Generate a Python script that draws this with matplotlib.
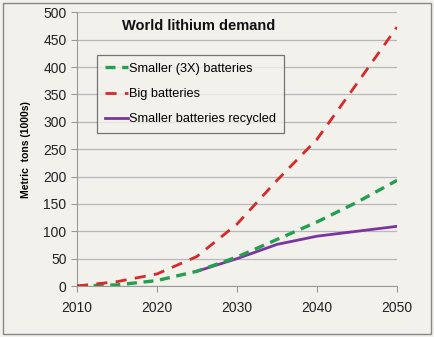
import matplotlib.pyplot as plt
from matplotlib.patches import Rectangle

plt.rcParams['font.family'] = ['Liberation Sans', 'DejaVu Sans']

# data (thousands of metric tons)
years = [2010, 2015, 2020, 2025, 2030, 2035, 2040, 2045, 2050]
big = [0, 8, 22, 54, 113, 193, 268, 370, 473]
smaller = [0, 2, 10, 27, 53, 85, 117, 153, 193]
rec_years = [2025, 2030, 2035, 2040, 2045, 2050]
recycled = [27, 50, 76, 91, 100, 109]

bg = '#f3f1ec'
fig = plt.figure(figsize=(4.34, 3.37), dpi=100, facecolor=bg)
ax = fig.add_axes([0.1774, 0.1513, 0.7373, 0.8122], facecolor=bg)

ax.plot(years, smaller, color='#22a050', lw=2.4, ls=(0, (3, 2)), label='Smaller (3X) batteries', zorder=3)
ax.plot(years, big, color='#d42a2a', lw=2.0, ls=(0, (4, 3)), label='Big batteries', zorder=3)
ax.plot(rec_years, recycled, color='#7a35a0', lw=2.0, label='Smaller batteries recycled', zorder=2)

ax.set_xlim(2010, 2050)
ax.set_ylim(0, 500)
ax.set_xticks(range(2010, 2051, 10))
ax.set_yticks(range(0, 501, 50))
ax.grid(axis='y', color='#b8b8b8', lw=0.9)
ax.set_axisbelow(True)
for s in ['top', 'right']:
    ax.spines[s].set_visible(False)
for s in ['left', 'bottom']:
    ax.spines[s].set_color('#999999')
ax.tick_params(axis='both', labelsize=10, colors='#999999', labelcolor='#222222', length=4)
ax.tick_params(axis='x', pad=7)

ax.set_ylabel('Metric  tons (1000s)', fontsize=7.5, fontweight='bold', labelpad=9)
ax.text(0.38, 0.95, 'World lithium demand', transform=ax.transAxes, ha='center', va='center',
        fontsize=10.5, fontweight='bold', color='#111111')

# legend box
leg = ax.legend(loc='upper left', bbox_to_anchor=(0.0625, 0.844), borderaxespad=0, fontsize=9.2,
                frameon=True, fancybox=False, handlelength=1.8, handletextpad=0.1,
                labelspacing=1.05, borderpad=0.6, facecolor=bg)
leg.get_frame().set_edgecolor('#555555')
leg.get_frame().set_linewidth(0.9)

# thin border round the whole picture
fig.patches.append(Rectangle((0.006, 0.01), 0.988, 0.98, transform=fig.transFigure,
                             fill=False, edgecolor='#888888', lw=1.0))

fig.savefig('out.png', dpi=100, facecolor=bg)
